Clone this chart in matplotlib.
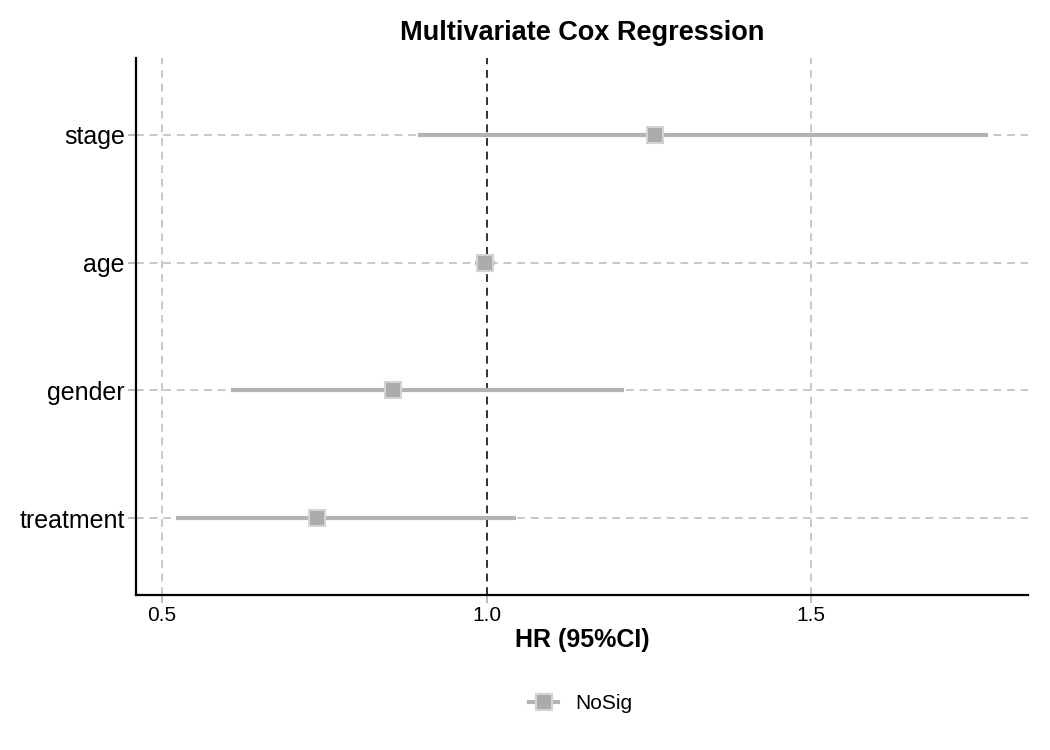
import matplotlib
matplotlib.use("Agg")
import matplotlib.pyplot as plt
from matplotlib.lines import Line2D

plt.rcParams['font.family'] = ['Liberation Sans', 'DejaVu Sans']

variables = ["treatment", "gender", "age", "stage"]
hr = [0.739, 0.856, 0.997, 1.259]
ci_low = [0.522, 0.606, 0.982, 0.895]
ci_high = [1.046, 1.211, 1.013, 1.773]
x_ticks = [0.5, 1.0, 1.5]
x_ticklabels = ["0.5", "1.0", "1.5"]

fig = plt.figure(figsize=(10.5, 7.5), dpi=100)
ax = fig.add_axes([0.1295, 0.2067, 0.8495, 0.716])

ypos = list(range(1, len(variables) + 1))
grid_color = "#c8c8c8"
for x in x_ticks:
    ax.axvline(x, color=grid_color, lw=1.4, ls=(0, (4, 3)), zorder=0)
for y in ypos:
    ax.axhline(y, color=grid_color, lw=1.4, ls=(0, (4, 3)), zorder=0)
ax.axvline(1.0, color="#333333", lw=1.4, ls=(0, (4, 3)), zorder=1)

line_color = "#b3b3b3"
for y, h, lo, hi in zip(ypos, hr, ci_low, ci_high):
    ax.plot([lo, hi], [y, y], color=line_color, lw=3, solid_capstyle="butt", zorder=2)
    ax.plot([h], [y], marker="s", ms=11.5, mfc="#ababab", mec="#d3d3d3", mew=1.5, zorder=3)

ax.set_xlim(0.46, 1.834)
ax.set_ylim(0.4, 4.6)
ax.set_yticks(ypos)
ax.set_yticklabels(variables, fontsize=18)
ax.set_xticks(x_ticks)
ax.set_xticklabels(x_ticklabels, fontsize=15)
ax.tick_params(axis="both", color="#b8b8b8", length=6, width=1.3, labelcolor="black")
ax.tick_params(axis="y", pad=2)
ax.tick_params(axis="x", pad=2)
for s in ["top", "right"]:
    ax.spines[s].set_visible(False)
for s in ["left", "bottom"]:
    ax.spines[s].set_linewidth(1.6)
    ax.spines[s].set_color("black")

ax.set_xlabel("HR (95%CI)", fontsize=18, fontweight="bold", labelpad=2)
ax.set_title("Multivariate Cox Regression", fontsize=19.5, fontweight="bold", pad=13)

handle = Line2D([0], [0], color=line_color, lw=3, marker="s", ms=11,
                mfc="#ababab", mec="#d3d3d3", mew=1.5)
fig.legend([handle], ["NoSig"], loc="center", bbox_to_anchor=(0.553, 0.062),
           frameon=False, fontsize=15, handlelength=1.4, handletextpad=0.8)

fig.savefig("out.png", dpi=100)
